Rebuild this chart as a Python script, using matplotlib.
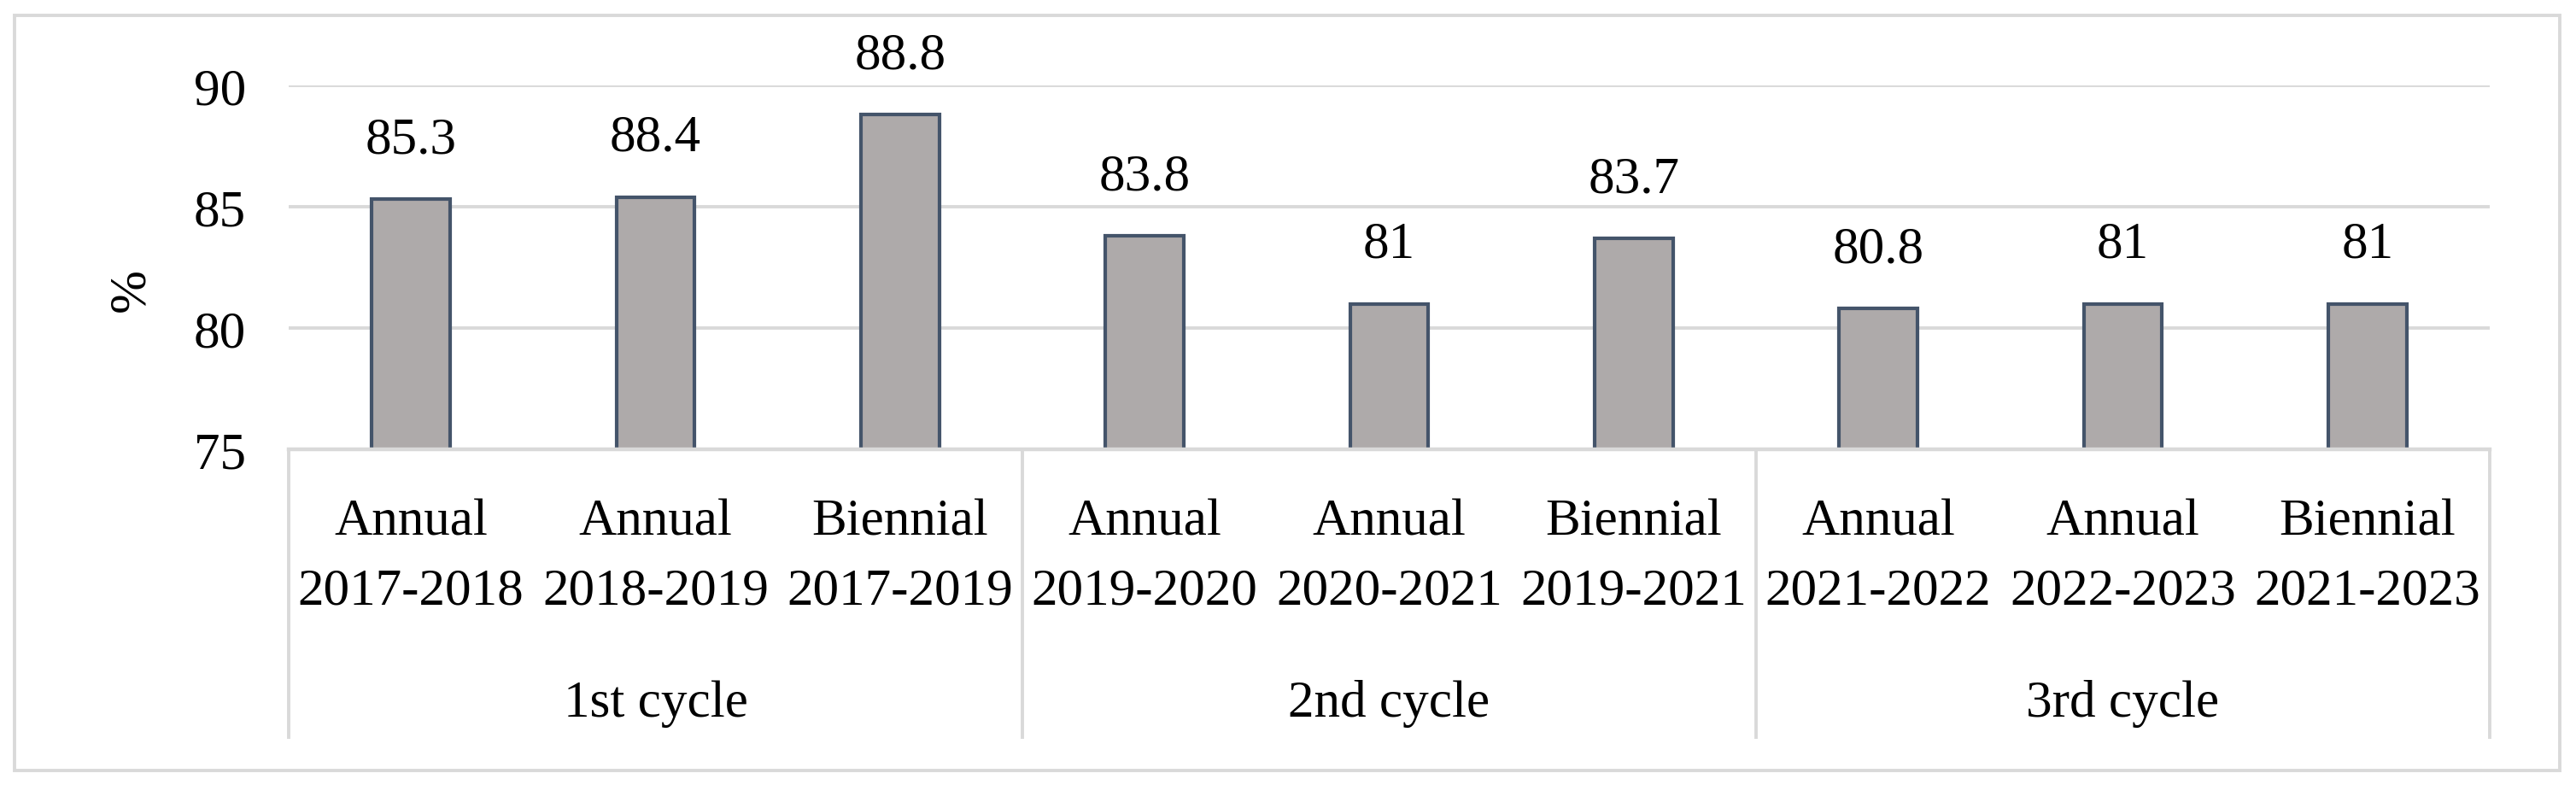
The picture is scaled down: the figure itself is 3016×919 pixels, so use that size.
import matplotlib.pyplot as plt
from matplotlib.transforms import blended_transform_factory
from matplotlib.patches import Rectangle
from matplotlib.lines import Line2D

# 数据
periods = ['Annual', 'Annual', 'Biennial', 'Annual', 'Annual', 'Biennial', 'Annual', 'Annual', 'Biennial']
years = ['2017-2018', '2018-2019', '2017-2019', '2019-2020', '2020-2021', '2019-2021',
         '2021-2022', '2022-2023', '2021-2023']
cycles = ['1st cycle', '2nd cycle', '3rd cycle']
values = [85.3, 85.4, 88.8, 83.8, 81.0, 83.7, 80.8, 81.0, 81.0]
value_labels = ['85.3', '88.4', '88.8', '83.8', '81', '83.7', '80.8', '81', '81']
y_ticks = [75, 80, 85, 90]

W, H = 3016, 920
plt.rcParams['font.family'] = ['Liberation Serif', 'DejaVu Serif']
FS = 44
GRID = '#d9d9d9'

fig = plt.figure(figsize=(W / 100, H / 100), dpi=100)

# 外框
fig.patches.append(Rectangle((17 / W, 1 - 903 / H), (2997 - 17) / W, (903 - 19) / H,
                             transform=fig.transFigure, fill=False, edgecolor=GRID, linewidth=2.8))

ax = fig.add_axes([338 / W, 1 - 527 / H, (2915 - 338) / W, (527 - 101) / H])
x = list(range(len(values)))
ax.bar(x, values, width=0.32, bottom=0, color='#aeaaaa', edgecolor='#44546a', linewidth=3, zorder=3)
ax.set_xlim(-0.5, len(values) - 0.5)
ax.set_ylim(75, 90)
ax.set_yticks(y_ticks)
ax.tick_params(axis='y', length=0, pad=36, labelsize=FS)
ax.set_xticks([])
ax.yaxis.grid(True, color=GRID, linewidth=2.8)
ax.set_axisbelow(True)
for s in ['top', 'right', 'left']:
    ax.spines[s].set_visible(False)
ax.spines['bottom'].set_color(GRID)
ax.spines['bottom'].set_linewidth(3.2)
ax.spines['bottom'].set_zorder(4)

# 数值标签
for xi, v, lab in zip(x, values, value_labels):
    ax.annotate(lab, (xi, v), xytext=(0, 50), textcoords='offset points',
                ha='center', va='center', fontsize=FS, annotation_clip=False)

# 多级分类轴
tr = blended_transform_factory(ax.transData, fig.transFigure)
for xi, p, yr in zip(x, periods, years):
    fig.text(xi, 1 - 612 / H, p, transform=tr, ha='center', va='center', fontsize=FS)
    fig.text(xi, 1 - 693 / H, yr, transform=tr, ha='center', va='center', fontsize=FS)
for i, c in enumerate(cycles):
    fig.text(3 * i + 1, 1 - 824 / H, c, transform=tr, ha='center', va='center', fontsize=FS)
for b in [-0.5, 2.5, 5.5, 8.5]:
    fig.add_artist(Line2D([b, b], [1 - 527 / H, 1 - 864 / H], transform=tr,
                          color=GRID, linewidth=2.8, clip_on=False))

fig.text(154 / W, 1 - 340 / H, '%', rotation=90, ha='center', va='center', fontsize=FS)

plt.savefig('out.png', dpi=100)
